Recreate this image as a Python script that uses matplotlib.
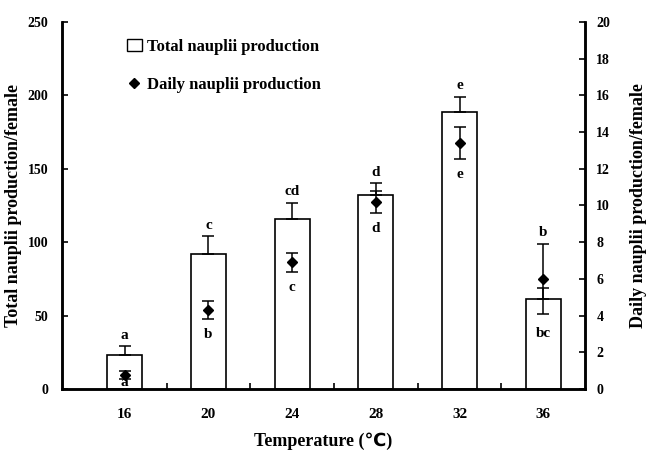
import numpy as np
import matplotlib.pyplot as plt
from matplotlib.patches import Patch
from matplotlib.lines import Line2D

# === Data ===
temps = ["16", "20", "24", "28", "32", "36"]
total = [23, 92, 116, 132, 189, 61]
total_err = [6, 12, 11, 8, 10, 8]
daily = [0.75, 4.3, 6.9, 10.2, 13.4, 6.0]
daily_err = [0.2, 0.5, 0.5, 0.6, 0.85, 1.9]
total_letters = ["a", "c", "cd", "d", "e", "b"]
daily_letters = ["a", "b", "c", "d", "e", "bc"]

plt.rcParams["font.family"] = ["Liberation Serif", "DejaVu Sans"]
plt.rcParams["font.weight"] = "bold"

fig = plt.figure(figsize=(6.56, 4.63), dpi=100)
ax = fig.add_axes([0.0945, 0.16, 0.7975, 0.7925])
ax2 = ax.twinx()

x = np.arange(len(temps))

# bars (left axis)
ax.bar(x, total, width=0.42, color="white", edgecolor="black", linewidth=1.2, zorder=2)
ax.errorbar(x, total, yerr=[np.zeros(len(x)), total_err], fmt="none",
            ecolor="black", elinewidth=1.1, capsize=4, capthick=1.1, zorder=3)

# diamonds (right axis)
ax2.errorbar(x, daily, yerr=daily_err, fmt="D", color="black", markersize=5.5,
             ecolor="black", elinewidth=1.1, capsize=4, capthick=1.1, zorder=4)

# significance letters
for i in range(len(x)):
    top_bar = (total[i] + total_err[i]) / 250 * 20
    top_dia = daily[i] + daily_err[i]
    if i == len(x) - 1:
        ytop = top_dia
    else:
        ytop = top_bar
    ax2.text(x[i], ytop + 0.25, total_letters[i], ha="center", va="bottom",
             fontsize=11, fontweight="bold")
    if i == len(x) - 1:
        yb = daily[i] - daily_err[i] - 0.7
    else:
        yb = max(daily[i] - daily_err[i] - 0.5, 0.7)
    ax2.text(x[i], yb, daily_letters[i], ha="center", va="top",
             fontsize=11, fontweight="bold")

ax.set_xlim(-0.75, 5.5)
ax.set_ylim(0, 250)
ax2.set_ylim(0, 20)
ax.set_yticks(np.arange(0, 251, 50))
ax2.set_yticks(np.arange(0, 21, 2))

ax.set_xticks(x)
ax.set_xticklabels(temps)
ax.set_xticks(x[:-1] + 0.5, minor=True)
ax.tick_params(axis="x", which="major", length=0, pad=14, labelsize=11)
ax.tick_params(axis="x", which="minor", direction="in", length=4, width=1.2)
ax.tick_params(axis="y", direction="in", length=4, width=1.2, labelsize=10, pad=10)
ax2.tick_params(axis="y", direction="in", length=4, width=1.2, labelsize=10, pad=8)

for a in (ax, ax2):
    a.spines["top"].set_visible(False)
    for s in ("left", "right", "bottom"):
        a.spines[s].set_linewidth(1.8)

ax.set_xlabel("Temperature (\u2103)", fontsize=13, fontweight="bold", labelpad=8)
ax.set_ylabel("Total nauplii production/female", fontsize=13, fontweight="bold", labelpad=4)
ax2.set_ylabel("Daily nauplii production/female", fontsize=13, fontweight="bold", labelpad=14)

handles = [Patch(facecolor="white", edgecolor="black", linewidth=1.0),
           Line2D([], [], marker="D", color="black", linestyle="none", markersize=5)]
ax.legend(handles, ["Total nauplii production", "Daily nauplii production"],
          loc="upper left", bbox_to_anchor=(0.095, 0.995), frameon=False,
          labelspacing=1.35, handlelength=0.9, handletextpad=0.3,
          prop={"weight": "bold", "size": 12})

fig.savefig("out.png", dpi=100)
